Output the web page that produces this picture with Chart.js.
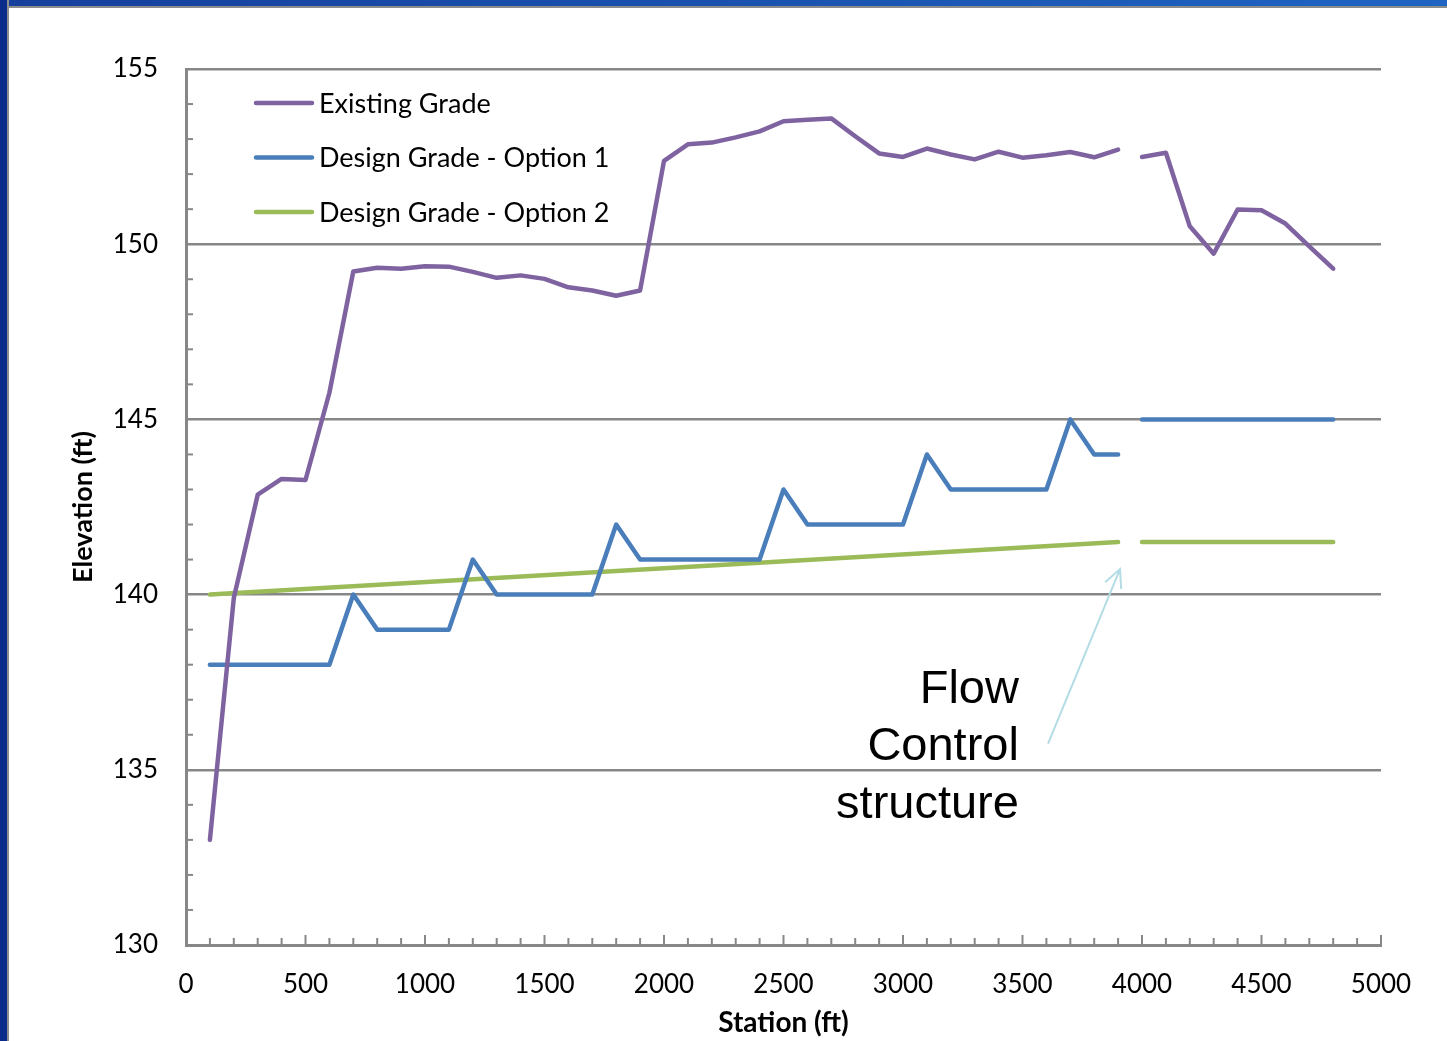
<!DOCTYPE html>
<html>
<head>
<meta charset="utf-8">
<title>Elevation profile</title>
<script src="https://cdn.jsdelivr.net/npm/chart.js@4.4.1/dist/chart.umd.min.js"></script>
<style>
  html, body { margin: 0; padding: 0; background: #fff; }
  #wrap { position: relative; width: 1447px; height: 1041px; overflow: hidden; background: #fff; }
  #frameTop { position: absolute; left: 0; top: 0; width: 1447px; height: 6px; background: linear-gradient(to right, #163f9c, #1f64c2); border-bottom: 2px solid #8c8c8c; }
  #frameLeft { position: absolute; left: 0; top: 0; width: 7px; height: 1041px; background: #0b2b8c; border-right: 2px solid #8c8c8c; }
</style>
</head>
<body>
<div id="wrap">
  <canvas id="profileChart"></canvas>
  <div id="frameTop"></div>
  <div id="frameLeft"></div>
</div>
<script>
// Stations every 100 ft; 3950 carries no value so the lines break at the structure
const stations = [100, 200, 300, 400, 500, 600, 700, 800, 900, 1000,
  1100, 1200, 1300, 1400, 1500, 1600, 1700, 1800, 1900, 2000,
  2100, 2200, 2300, 2400, 2500, 2600, 2700, 2800, 2900, 3000,
  3100, 3200, 3300, 3400, 3500, 3600, 3700, 3800, 3900, 3950,
  4000, 4100, 4200, 4300, 4400, 4500, 4600, 4700, 4800];

const existingGrade = [133.0, 139.9, 142.85, 143.3, 143.27, 145.76, 149.22, 149.33, 149.3, 149.37,
  149.36, 149.21, 149.04, 149.11, 149.01, 148.77, 148.68, 148.53, 148.68, 152.38,
  152.85, 152.9, 153.05, 153.22, 153.51, 153.55, 153.59, 153.08, 152.59, 152.49,
  152.73, 152.56, 152.42, 152.64, 152.47, 152.54, 152.63, 152.48, 152.7, null,
  152.49, 152.61, 150.51, 149.73, 150.99, 150.97, 150.59, 149.94, 149.3];

const designOption1 = [138, 138, 138, 138, 138, 138, 140, 139, 139, 139,
  139, 141, 140, 140, 140, 140, 140, 142, 141, 141,
  141, 141, 141, 141, 143, 142, 142, 142, 142, 142,
  144, 143, 143, 143, 143, 143, 145, 144, 144, null,
  145, 145, 145, 145, 145, 145, 145, 145, 145];

const option2Stations = [100, 3900, 3950, 4000, 4800];
const designOption2 = [140.0, 141.5, null, 141.5, 141.5];

const xTicks = [0, 500, 1000, 1500, 2000, 2500, 3000, 3500, 4000, 4500, 5000];
const yTicks = [130, 135, 140, 145, 150, 155];

const AXIS_GREY = '#878787';
const LABEL_FONT = 'Lato';

const toPoints = (xs, ys) => xs.map((x, i) => ({ x: x, y: ys[i] }));

// minor tick marks, legend and the flow control callout
const extras = {
    id: 'extras',
    beforeDatasetsDraw(chart) {
        const { ctx, chartArea: a, scales: { x, y } } = chart;
        ctx.save();
        ctx.strokeStyle = AXIS_GREY;
        ctx.lineWidth = 2;
        for (let v = 100; v <= 5000; v += 100) {
            const px = x.getPixelForValue(v);
            const len = v % 500 === 0 ? 10 : 7;
            ctx.beginPath();
            ctx.moveTo(px, a.bottom);
            ctx.lineTo(px, a.bottom - len);
            ctx.stroke();
        }
        for (let v = 131; v < 155; v++) {
            if (v % 5 === 0) continue;
            const py = y.getPixelForValue(v);
            ctx.beginPath();
            ctx.moveTo(a.left, py);
            ctx.lineTo(a.left + 7, py);
            ctx.stroke();
        }
        ctx.restore();
    },
    afterDraw(chart) {
        const { ctx, scales: { x, y } } = chart;
        ctx.save();

        // legend, top left inside the plot
        ctx.font = '27px ' + LABEL_FONT;
        ctx.textBaseline = 'middle';
        ctx.textAlign = 'left';
        chart.data.datasets.forEach(function(ds, i) {
            const ly = 103 + i * 54.5;
            ctx.strokeStyle = ds.borderColor;
            ctx.lineWidth = 4.5;
            ctx.lineCap = 'round';
            ctx.beginPath();
            ctx.moveTo(256, ly);
            ctx.lineTo(312, ly);
            ctx.stroke();
            ctx.fillStyle = '#000';
            ctx.fillText(ds.label, 319, ly + 1);
        });

        // callout text
        ctx.font = '47px "Liberation Sans"';
        ctx.textAlign = 'right';
        ctx.fillStyle = '#000';
        const tx = x.getPixelForValue(3485);
        const ty = y.getPixelForValue(137.28);
        ['Flow', 'Control', 'structure'].forEach(function(line, i) {
            ctx.fillText(line, tx, ty + i * 57.5);
        });

        // arrow pointing at the structure
        const x0 = x.getPixelForValue(3607), y0 = y.getPixelForValue(135.75);
        const x1 = x.getPixelForValue(3908), y1 = y.getPixelForValue(140.73);
        const ang = Math.atan2(y1 - y0, x1 - x0);
        ctx.strokeStyle = '#b3dce5';
        ctx.lineWidth = 2;
        ctx.lineCap = 'butt';
        ctx.beginPath();
        ctx.moveTo(x0, y0);
        ctx.lineTo(x1, y1);
        ctx.moveTo(x1 - 20 * Math.cos(ang - 0.45), y1 - 20 * Math.sin(ang - 0.45));
        ctx.lineTo(x1, y1);
        ctx.lineTo(x1 - 20 * Math.cos(ang + 0.45), y1 - 20 * Math.sin(ang + 0.45));
        ctx.stroke();

        ctx.restore();
    }
};

const lineStyle = {
    borderWidth: 4.5,
    pointRadius: 0,
    borderCapStyle: 'round',
    borderJoinStyle: 'round',
    spanGaps: false,
    tension: 0
};

const ctx = document.getElementById('profileChart').getContext('2d');
const chart = new Chart(ctx, {
    type: 'line',
    data: {
        datasets: [
            Object.assign({
                label: 'Existing Grade',
                data: toPoints(stations, existingGrade),
                borderColor: '#7f63a1'
            }, lineStyle),
            Object.assign({
                label: 'Design Grade - Option 1',
                data: toPoints(stations, designOption1),
                borderColor: '#4a7ebb'
            }, lineStyle),
            Object.assign({
                label: 'Design Grade - Option 2',
                data: toPoints(option2Stations, designOption2),
                borderColor: '#9bbb59'
            }, lineStyle)
        ]
    },
    options: {
        responsive: true,
        maintainAspectRatio: false,
        animation: false,
        layout: {
            padding: { top: 69, right: 66, left: 0, bottom: 0 }
        },
        plugins: {
            legend: { display: false },
            tooltip: { enabled: false }
        },
        scales: {
            x: {
                type: 'linear',
                min: 0,
                max: 5000,
                afterBuildTicks: function(scale) {
                    scale.ticks = xTicks.map(v => ({ value: v }));
                },
                afterFit: function(scale) { scale.height = 96; },
                grid: { display: true, drawOnChartArea: false, drawTicks: false },
                border: { display: true, color: AXIS_GREY, width: 3 },
                ticks: {
                    color: '#000',
                    padding: 24,
                    maxRotation: 0,
                    callback: v => String(v),
                    font: { family: LABEL_FONT, size: 26 }
                },
                title: {
                    display: true,
                    text: 'Station (ft)',
                    color: '#000',
                    font: { family: LABEL_FONT, size: 28, weight: 'bold' },
                    padding: { top: 0, bottom: 1 }
                }
            },
            y: {
                min: 130,
                max: 155,
                afterBuildTicks: function(scale) {
                    scale.ticks = yTicks.map(v => ({ value: v }));
                },
                afterFit: function(scale) { scale.width = 186; },
                grid: { color: AXIS_GREY, lineWidth: 2.5, drawTicks: false },
                border: { display: true, color: AXIS_GREY, width: 3 },
                ticks: {
                    color: '#000',
                    padding: 28,
                    callback: v => String(v),
                    font: { family: LABEL_FONT, size: 26 }
                },
                title: {
                    display: true,
                    text: 'Elevation (ft)',
                    color: '#000',
                    font: { family: LABEL_FONT, size: 27, weight: 'bold' },
                    padding: { top: 67, bottom: 0 }
                }
            }
        }
    },
    plugins: [extras]
});
</script>
</body>
</html>
